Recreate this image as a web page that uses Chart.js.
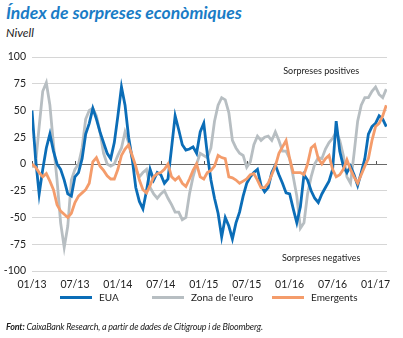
<html>
<head>
  <meta charset="utf-8">
  <title>Índex de sorpreses econòmiques</title>
  <script src="https://cdn.jsdelivr.net/npm/chart.js"></script>
  <style>
    body {
      margin: 0;
      width: 403px;
      height: 338px;
      background: #fff;
      font-family: 'Lato', sans-serif;
      position: relative;
      overflow: hidden;
    }
    .title {
      position: absolute;
      left: 6px;
      top: 2px;
      font-size: 17.5px;
      font-weight: bold;
      font-style: italic;
      color: #1a7cc6;
      white-space: nowrap;
    }
    .subtitle {
      position: absolute;
      left: 6px;
      top: 25px;
      font-size: 12px;
      font-style: italic;
      color: #222;
    }
    #wrap {
      position: absolute;
      left: 0;
      top: 40px;
    }
    .legend {
      position: absolute;
      top: 291px;
      font-size: 10px;
      color: #222;
      white-space: nowrap;
    }
    .legend span.line {
      display: inline-block;
      width: 32px;
      height: 3px;
      vertical-align: middle;
      margin-right: 7px;
      position: relative;
      top: -1px;
    }
    .source {
      position: absolute;
      left: 6px;
      top: 321px;
      font-size: 9px;
      font-style: italic;
      color: #222;
      white-space: nowrap;
      letter-spacing: -0.2px;
    }
  </style>
</head>
<body>
  <div class="title">Índex de sorpreses econòmiques</div>
  <div class="subtitle">Nivell</div>
  <div id="wrap"><canvas id="chart" width="403" height="256"></canvas></div>
  <div class="legend" style="left:60px"><span class="line" style="background:#0b6db7"></span>EUA</div>
  <div class="legend" style="left:152px"><span class="line" style="background:#b7bec2"></span>Zona de l'euro</div>
  <div class="legend" style="left:272px"><span class="line" style="background:#f49c6b"></span>Emergents</div>
  <div class="source"><b>Font:</b> CaixaBank Research, a partir de dades de Citigroup i de Bloomberg.</div>

<script>
// half-monthly readings, 01/2013 .. 02/2017
const tickLabels = ['01/13', '07/13', '01/14', '07/14', '01/15', '07/15', '01/16', '07/16', '01/17'];

const eua = [
  50, 5, -28, -5, 15, 28, 12, 0, -5, -15, -28, -30,
  -12, -8, 5, 28, 38, 52, 42, 30, 20, 10, 5, 20,
  45, 72, 55, 25, 5, -22, -35, -42, -25, -5, -15, -8,
  -10, -18, -14, 15, 45, 32, 18, 13, 14, 16, 10, 30,
  38, 9, -15, -32, -46, -68, -50, -58, -70, -55, -45, -30,
  -18, -12, -8, -5, -20, -26, -22, -8, -1, -10, -18, -27,
  -28, -42, -55, -40, -10, -15, -25, -32, -36, -28, -22, -16,
  -5, 40, 12, -2, -8, -2, -10, -20, -8, 5, 28, 35,
  38, 45, 42, 35
];

const zonaEuro = [
  -3, 0, 35, 68, 76, 55, 18, -15, -55, -78, -58, -15,
  -5, 0, 15, 42, 50, 52, 45, 30, 10, 0, -2, 0,
  8, 15, 30, 20, 5, -5, -12, -8, -5, -22, -28, -32,
  -28, -25, -32, -38, -45, -45, -52, -50, -28, -12, 0, 10,
  8, 6, 15, 40, 55, 62, 60, 48, 22, 15, 10, 8,
  -3, 2, 18, 26, 22, 25, 26, 22, 30, 22, 12, 12,
  5, -12, -30, -60, -55, -28, -12, 0, 6, 5, 14, 20,
  24, 30, 22, 8, -12, -18, 10, 40, 55, 62, 62, 68,
  72, 65, 62, 70
];

const emergents = [
  0, -3, -8, -12, -9, -16, -24, -38, -44, -47, -50, -46,
  -36, -30, -27, -24, -18, 2, 6, -2, -6, -11, -14, -14,
  -5, 8, 14, 18, 8, -2, -15, -24, -27, -20, -12, -9,
  -8, -5, 0, -12, -15, -12, -18, -21, -14, -6, 0, -12,
  -14, -8, -6, -2, 8, 6, 5, -12, -13, -15, -18, -16,
  -14, -10, -9, -15, -22, -22, -18, -10, -2, 10, 16, 22,
  5, -8, -8, -8, -10, 0, 15, 18, 5, 0, 5, 8,
  -5, -12, -10, -5, 4, -5, -12, -18, -10, -2, 5, 22,
  35, 38, 45, 55
];

const toPoints = arr => arr.map((v, i) => ({ x: i / 2, y: v }));

const notes = {
  id: 'notes',
  beforeDatasetsDraw(chart) {
    const { ctx, scales: { x, y } } = chart;
    const y0 = y.getPixelForValue(0);
    ctx.save();
    ctx.strokeStyle = '#555';
    ctx.lineWidth = 1;
    tickLabels.forEach((_, i) => {
      const px = Math.round(x.getPixelForValue(i * 6)) + 0.5;
      ctx.beginPath();
      ctx.moveTo(px, y0);
      ctx.lineTo(px, y0 - 3);
      ctx.stroke();
    });
    ctx.restore();
  },
  afterDraw(chart) {
    const { ctx, scales: { x, y } } = chart;
    ctx.save();
    ctx.font = '9px Lato';
    ctx.fillStyle = '#222';
    ctx.textAlign = 'center';
    ctx.textBaseline = 'middle';
    ctx.fillText('Sorpreses positives', x.getPixelForValue(40.4), y.getPixelForValue(87));
    ctx.fillText('Sorpreses negatives', x.getPixelForValue(40.4), y.getPixelForValue(-88));
    ctx.restore();
  }
};

new Chart(document.getElementById('chart'), {
  type: 'line',
  data: {
    datasets: [
      { label: 'EUA', data: toPoints(eua), borderColor: '#0b6db7', order: 1 },
      { label: "Zona de l'euro", data: toPoints(zonaEuro), borderColor: '#b7bec2', order: 2 },
      { label: 'Emergents', data: toPoints(emergents), borderColor: '#f49c6b', order: 0 }
    ]
  },
  options: {
    responsive: false,
    animation: false,
    layout: { padding: { top: 17, right: 16, bottom: 0, left: 0 } },
    elements: {
      point: { radius: 0 },
      line: { borderWidth: 2.8, tension: 0 }
    },
    plugins: {
      legend: { display: false },
      tooltip: { enabled: false }
    },
    scales: {
      x: {
        type: 'linear',
        min: 0,
        max: 49.6,
        afterFit: s => { s.height = 25; },
        afterBuildTicks: s => { s.ticks = tickLabels.map((_, i) => ({ value: i * 6 })); },
        grid: { display: false, drawTicks: false },
        border: { display: false },
        ticks: {
          autoSkip: false,
          maxRotation: 0,
          padding: 7,
          color: '#222',
          font: { family: 'Lato', size: 10.5 },
          callback: v => tickLabels[Math.round(v / 6)]
        }
      },
      y: {
        min: -100,
        max: 100,
        afterFit: s => { s.width = 32; },
        grid: {
          drawTicks: false,
          lineWidth: 1,
          color: c => c.tick.value === 0 ? '#6a6a6a' : '#d6d6d6'
        },
        border: { display: false },
        ticks: {
          stepSize: 25,
          padding: 6,
          color: '#222',
          font: { family: 'Lato', size: 10.5 }
        }
      }
    }
  },
  plugins: [notes]
});
</script>
</body>
</html>
